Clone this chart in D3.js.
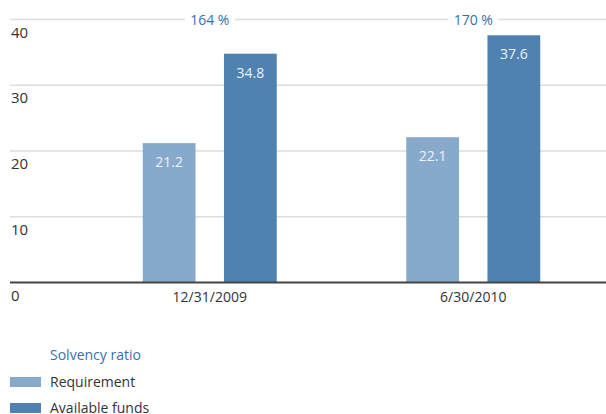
<!DOCTYPE html>
<html>
<head>
<meta charset="utf-8">
<script src="https://cdn.jsdelivr.net/npm/d3@7"></script>
<style>
	body { margin: 0; background: #fff; }
	svg { display: block; font-family: "Open Sans", "Noto Sans", sans-serif; }
</style>
</head>
<body>
<svg id="chart" width="606" height="414"></svg>
<script>
'use strict';

// data
const categories = ["12/31/2009", "6/30/2010"];
const seriesNames = ["Requirement", "Available funds"];
const requirement = [21.2, 22.1];
const availableFunds = [34.8, 37.6];
const solvencyRatio = ["164 %", "170 %"];
const yTicks = [0, 10, 20, 30, 40];

const COLORS = ["#87a9cb", "#4f81b1"];
const TEXT_BLUE = "#3a70a8";

const svg = d3.select("#chart");

const x = d3.scaleBand()
	.domain(categories)
	.range([78, 605]);

const sub = d3.scaleBand()
	.domain(seriesNames)
	.range([x.bandwidth() / 2 - 67, x.bandwidth() / 2 + 67])
	.paddingInner(0.35);

const y = d3.scaleLinear()
	.domain([0, 40])
	.range([282.5, 19.5]);

// gridlines + tick labels (labels sit just below each line)
const grid = svg.append("g");
grid.selectAll("line")
	.data(yTicks.filter(d => d > 0))
	.join("line")
		.attr("x1", 10)
		.attr("x2", 606)
		.attr("y1", d => y(d))
		.attr("y2", d => y(d))
		.attr("stroke", "#dddddd")
		.attr("stroke-width", 1.5);

grid.selectAll("text")
	.data(yTicks)
	.join("text")
		.attr("x", 11)
		.attr("y", d => y(d) + 18)
		.attr("font-size", 15)
		.attr("fill", "#333")
		.text(d => d);

// bars
const rows = categories.map((c, i) => ({
	cat: c,
	values: [requirement[i], availableFunds[i]]
}));

const groups = svg.append("g").selectAll("g")
	.data(rows)
	.join("g")
		.attr("transform", d => `translate(${x(d.cat)},0)`);

groups.selectAll("rect")
	.data(d => d.values.map((v, j) => ({ name: seriesNames[j], value: v, j: j })))
	.join("rect")
		.attr("x", d => sub(d.name))
		.attr("width", sub.bandwidth())
		.attr("y", d => y(d.value))
		.attr("height", d => y(0) - y(d.value))
		.attr("fill", d => COLORS[d.j]);

groups.selectAll("text.val")
	.data(d => d.values.map((v, j) => ({ name: seriesNames[j], value: v })))
	.join("text")
		.attr("class", "val")
		.attr("x", d => sub(d.name) + sub.bandwidth() / 2)
		.attr("y", d => y(d.value) + 24)
		.attr("text-anchor", "middle")
		.attr("font-size", 14)
		.attr("fill", "#eef3f8")
		.text(d => d.value.toFixed(1));

// solvency ratio labels over the top gridline
groups.append("rect")
	.attr("x", x.bandwidth() / 2 - 25)
	.attr("width", 50)
	.attr("y", y(40) - 9)
	.attr("height", 18)
	.attr("fill", "#fff");

groups.append("text")
	.attr("x", x.bandwidth() / 2)
	.attr("y", y(40) + 5)
	.attr("text-anchor", "middle")
	.attr("font-size", 14)
	.attr("fill", TEXT_BLUE)
	.text((d, i) => solvencyRatio[i]);

// baseline
svg.append("line")
	.attr("x1", 10)
	.attr("x2", 606)
	.attr("y1", y(0))
	.attr("y2", y(0))
	.attr("stroke", "#444")
	.attr("stroke-width", 2);

// category labels
svg.append("g").selectAll("text")
	.data(categories)
	.join("text")
		.attr("x", d => x(d) + x.bandwidth() / 2)
		.attr("y", y(0) + 19)
		.attr("text-anchor", "middle")
		.attr("font-size", 14)
		.attr("fill", "#333")
		.text(d => d);

// legend
const legend = svg.append("g");
legend.append("text")
	.attr("x", 50)
	.attr("y", 360)
	.attr("font-size", 14)
	.attr("fill", TEXT_BLUE)
	.text("Solvency ratio");

const items = legend.selectAll("g")
	.data(seriesNames)
	.join("g")
		.attr("transform", (d, i) => `translate(0,${377 + i * 26})`);

items.append("rect")
	.attr("x", 10)
	.attr("width", 31)
	.attr("height", 10)
	.attr("fill", (d, i) => COLORS[i]);

items.append("text")
	.attr("x", 50)
	.attr("y", 10)
	.attr("font-size", 14)
	.attr("fill", "#333")
	.text(d => d);
</script>
</body>
</html>
